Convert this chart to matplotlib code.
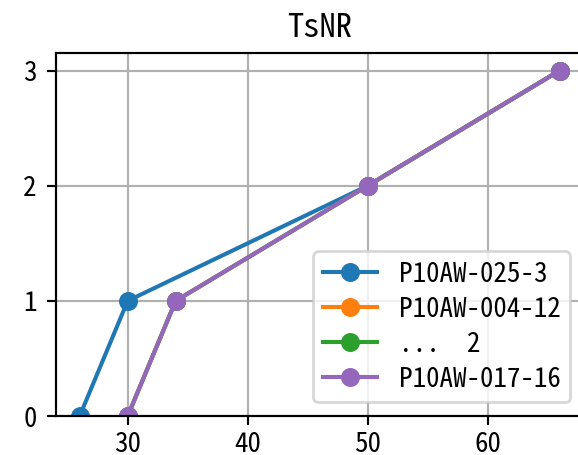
import matplotlib.pyplot as plt

plt.rcParams['font.family'] = ['Noto Sans Mono CJK JP', 'Noto Sans CJK JP', 'DejaVu Sans']
plt.rcParams['xtick.major.pad'] = 2

# данные серий
labels = ['P10AW-025-3', 'P10AW-004-12', '...  2', 'P10AW-017-16']
colors = ['C0', 'C1', 'C2', 'C4']
x_vals = [
    [26, 30, 50, 66],
    [30, 34, 50, 66],
    [30, 34, 50, 66],
    [30, 34, 50, 66],
]
y_vals = [0, 1, 2, 3]

DPI = 195
fig = plt.figure(figsize=(578 / DPI, 455 / DPI), dpi=DPI)
ax = fig.add_axes([55.7 / 578, (455 - 416) / 455, 528 / 578, (416 - 53.3) / 455])

for xs, lab, c in zip(x_vals, labels, colors):
    ax.plot(xs, y_vals, 'o-', color=c, label=lab)

ax.set_xlim(24, 68)
ax.set_ylim(0, 3.15)
ax.set_xticks([30, 40, 50, 60])
ax.set_yticks([0, 1, 2, 3])
ax.grid(True)
ax.set_title('TsNR')
ax.legend(loc='lower right', labelspacing=0.3, borderpad=0.35)

fig.savefig('out.png', dpi=DPI)
